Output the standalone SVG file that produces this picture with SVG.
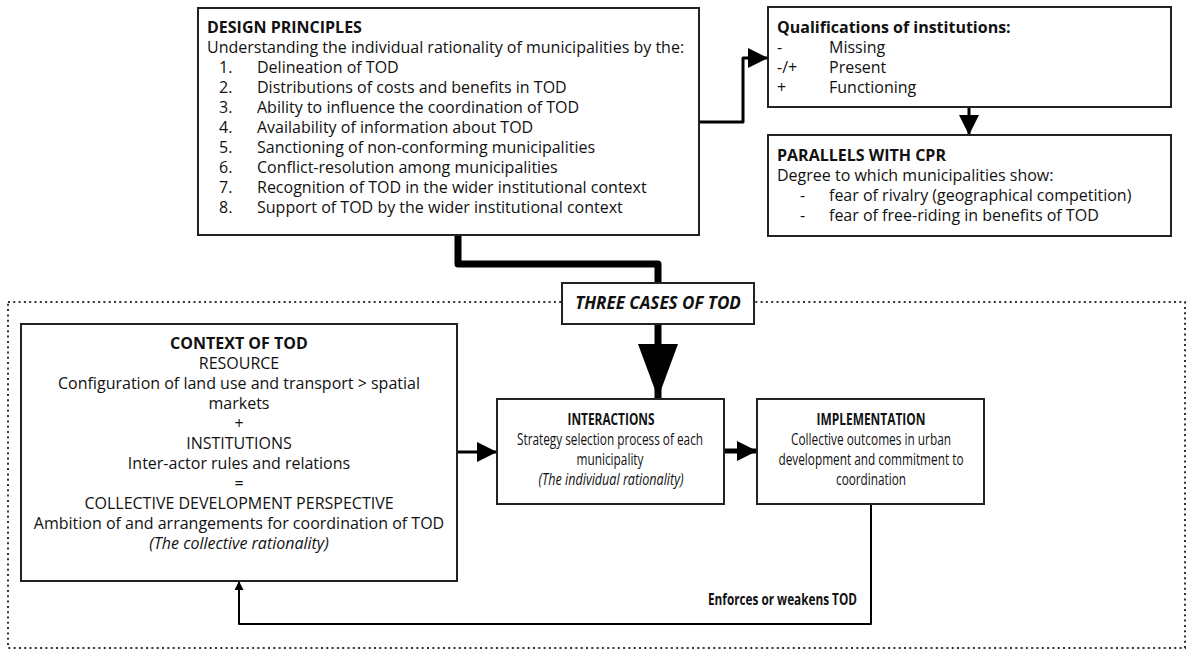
<svg xmlns="http://www.w3.org/2000/svg" width="1192" height="653" viewBox="0 0 1192 653">
  <style>
    .box { fill: #fff; stroke: #222; stroke-width: 2; }
    .t { font-family: "Open Sans", "Liberation Sans", sans-serif; font-size: 16px; fill: #111; }
    .b { font-weight: bold; }
    .i { font-style: italic; }
    .c { text-anchor: middle; }
    .link { fill: none; stroke: #000; stroke-linejoin: round; }
  </style>
  <defs>
    <marker id="arrow" viewBox="0 0 20 20" refX="20" refY="10" markerWidth="20" markerHeight="20" markerUnits="userSpaceOnUse" orient="auto">
      <path d="M0,0 L20,10 L0,20 Z" fill="#000"/>
    </marker>
    <marker id="arrowSmall" viewBox="0 0 10 10" refX="10" refY="5" markerWidth="11" markerHeight="9" markerUnits="userSpaceOnUse" orient="auto">
      <path d="M0,0 L10,5 L0,10 Z" fill="#000"/>
    </marker>
    <marker id="arrowBig" viewBox="0 0 54 40" refX="54" refY="20" markerWidth="54" markerHeight="40" markerUnits="userSpaceOnUse" orient="auto">
      <path d="M0,0 L54,20 L0,40 Z" fill="#000"/>
    </marker>
  </defs>

  <!-- frame around the three cases -->
  <rect x="8" y="302" width="1177" height="346" fill="none" stroke="#333" stroke-width="2" stroke-dasharray="2 3.3"/>

  <g id="connectors">
    <!-- design principles to three cases -->
    <path class="link" d="M458,235 V264 H658 V283" stroke-width="7"/>
    <!-- three cases to interactions -->
    <path class="link" d="M658,324 V398" stroke-width="7" marker-end="url(#arrowBig)"/>
    <!-- design principles to qualifications -->
    <path class="link" d="M699,122 H743 V58 H768" stroke-width="3" marker-end="url(#arrow)"/>
    <!-- qualifications to parallels -->
    <path class="link" d="M969,107 V135" stroke-width="3" marker-end="url(#arrow)"/>
    <!-- context to interactions -->
    <path class="link" d="M457,452 H497" stroke-width="3" marker-end="url(#arrow)"/>
    <!-- interactions to implementation -->
    <path class="link" d="M724,451 H757" stroke-width="5" marker-end="url(#arrow)"/>
    <!-- feedback loop -->
    <path class="link" d="M871,504 V624 H239 V581" stroke-width="2" marker-end="url(#arrowSmall)"/>
    <text class="t b" x="857" y="605" text-anchor="end" textLength="149" lengthAdjust="spacingAndGlyphs">Enforces or weakens TOD</text>
  </g>

  <g id="design-principles">
    <rect class="box" x="198" y="8" width="501" height="227"/>
    <text class="t b" x="207" y="33">DESIGN PRINCIPLES</text>
    <text class="t" x="207" y="53">Understanding the individual rationality of municipalities by the:</text>
    <text class="t" x="219" y="73">1.</text><text class="t" x="257" y="73">Delineation of TOD</text>
    <text class="t" x="219" y="93">2.</text><text class="t" x="257" y="93">Distributions of costs and benefits in TOD</text>
    <text class="t" x="219" y="113">3.</text><text class="t" x="257" y="113">Ability to influence the coordination of TOD</text>
    <text class="t" x="219" y="133">4.</text><text class="t" x="257" y="133">Availability of information about TOD</text>
    <text class="t" x="219" y="153">5.</text><text class="t" x="257" y="153">Sanctioning of non-conforming municipalities</text>
    <text class="t" x="219" y="173">6.</text><text class="t" x="257" y="173">Conflict-resolution among municipalities</text>
    <text class="t" x="219" y="193">7.</text><text class="t" x="257" y="193">Recognition of TOD in the wider institutional context</text>
    <text class="t" x="219" y="213">8.</text><text class="t" x="257" y="213">Support of TOD by the wider institutional context</text>
  </g>

  <g id="qualifications">
    <rect class="box" x="768" y="7" width="403" height="100"/>
    <text class="t b" x="777" y="33">Qualifications of institutions:</text>
    <text class="t" x="777" y="53">-</text><text class="t" x="829" y="53">Missing</text>
    <text class="t" x="777" y="73">-/+</text><text class="t" x="829" y="73">Present</text>
    <text class="t" x="777" y="93">+</text><text class="t" x="829" y="93">Functioning</text>
  </g>

  <g id="parallels">
    <rect class="box" x="768" y="135" width="403" height="101"/>
    <text class="t b" x="777" y="161">PARALLELS WITH CPR</text>
    <text class="t" x="777" y="181">Degree to which municipalities show:</text>
    <text class="t" x="800" y="201">-</text><text class="t" x="829" y="201">fear of rivalry (geographical competition)</text>
    <text class="t" x="800" y="221">-</text><text class="t" x="829" y="221">fear of free-riding in benefits of TOD</text>
  </g>

  <g id="three-cases">
    <rect class="box" x="562" y="283" width="192" height="41"/>
    <text class="t b i c" x="658" y="309" style="font-size:17px">THREE CASES OF TOD</text>
  </g>

  <g id="context">
    <rect class="box" x="21" y="324" width="436" height="257"/>
    <text class="t b c" x="239" y="349">CONTEXT OF TOD</text>
    <text class="t c" x="239" y="369">RESOURCE</text>
    <text class="t c" x="239" y="389">Configuration of land use and transport &gt; spatial</text>
    <text class="t c" x="239" y="409">markets</text>
    <text class="t c" x="239" y="429">+</text>
    <text class="t c" x="239" y="449">INSTITUTIONS</text>
    <text class="t c" x="239" y="469">Inter-actor rules and relations</text>
    <text class="t c" x="239" y="489">=</text>
    <text class="t c" x="239" y="509">COLLECTIVE DEVELOPMENT PERSPECTIVE</text>
    <text class="t c" x="239" y="529">Ambition of and arrangements for coordination of TOD</text>
    <text class="t i c" x="239" y="549">(The collective rationality)</text>
  </g>

  <g id="interactions">
    <rect class="box" x="497" y="399" width="227" height="105"/>
    <text class="t b c" x="611" y="425" textLength="87" lengthAdjust="spacingAndGlyphs">INTERACTIONS</text>
    <text class="t c" x="610" y="445" textLength="186" lengthAdjust="spacingAndGlyphs">Strategy selection process of each</text>
    <text class="t c" x="610" y="465" textLength="67" lengthAdjust="spacingAndGlyphs">municipality</text>
    <text class="t i c" x="611" y="485" textLength="145" lengthAdjust="spacingAndGlyphs">(The individual rationality)</text>
  </g>

  <g id="implementation">
    <rect class="box" x="757" y="399" width="227" height="105"/>
    <text class="t b c" x="871" y="425" textLength="109" lengthAdjust="spacingAndGlyphs">IMPLEMENTATION</text>
    <text class="t c" x="871" y="445" textLength="160" lengthAdjust="spacingAndGlyphs">Collective outcomes in urban</text>
    <text class="t c" x="871" y="465" textLength="185" lengthAdjust="spacingAndGlyphs">development and commitment to</text>
    <text class="t c" x="871" y="485" textLength="70" lengthAdjust="spacingAndGlyphs">coordination</text>
  </g>
</svg>
